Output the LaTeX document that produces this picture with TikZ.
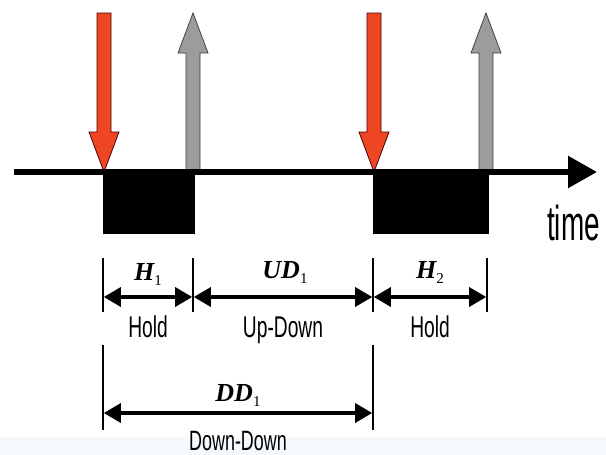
\documentclass[tikz,border=0pt]{standalone}
\usepackage{fontspec}
\setmainfont{Liberation Sans}
\newfontfamily\mathlbl{Liberation Serif}
\usetikzlibrary{arrows.meta}
\definecolor{keyred}{HTML}{EE4622}
\definecolor{keygray}{HTML}{9C9C9C}
\definecolor{bandblue}{HTML}{F3F9FC}
\tikzset{
  pressarrow/.style={fill=keyred, draw=black!70!red, line width=0.8pt, line join=miter},
  releasearrow/.style={fill=keygray, draw=black!75, line width=0.8pt, line join=miter},
  holdbox/.style={fill=black, draw=black},
  tickline/.style={draw=black, line width=1.6pt},
  span/.style={draw=black, line width=3.2pt, {Triangle[length=17pt,width=19pt]}-{Triangle[length=17pt,width=19pt]}, shorten <=0.8pt, shorten >=0.8pt},
  axisline/.style={draw=black, line width=5.5pt, -{Triangle[length=29pt,width=31pt]}},
  sanslbl/.style={inner sep=0pt, anchor=base, font=\fontsize{30}{30}\selectfont},
  mathnode/.style={inner sep=0pt, anchor=base, font=\fontsize{26}{26}\selectfont\mathlbl\bfseries\itshape}
}
\newcommand{\narrowtext}[2]{\scalebox{#1}[1]{#2}}
\newcommand{\sublbl}[2]{#1\raisebox{-5pt}{\fontsize{15}{15}\selectfont\mdseries\upshape #2}}
\begin{document}
\begin{tikzpicture}[x=1pt, y=-1pt]
\useasboundingbox (0,0) rectangle (606,455);
\fill[white] (0,0) rectangle (606,437);
\fill[bandblue] (0,437) rectangle (606,455);

% key press/release arrows (behind axis)
\foreach \cx in {104,374}{
  \draw[pressarrow] (\cx-7,13) -- (\cx+7,13) -- (\cx+7,132) -- (\cx+15,132) -- (\cx,172) -- (\cx-15,132) -- (\cx-7,132) -- cycle;
}
\foreach \cx in {193,486}{
  \draw[releasearrow] (\cx,13) -- (\cx+15,53) -- (\cx+7,53) -- (\cx+7,172) -- (\cx-7,172) -- (\cx-7,53) -- (\cx-15,53) -- cycle;
}

% time axis
\coordinate (axisstart) at (14,172);
\coordinate (axisend) at (597,172);
\draw[axisline] (axisstart) -- (axisend);
\node[sanslbl, font=\fontsize{49}{49}\selectfont] (timelbl) at (573.5,240) {\narrowtext{0.57}{time}};

% hold boxes
\fill[holdbox] (103,170) rectangle (194,233);
\fill[holdbox] (373,170) rectangle (488,233);

% tick marks
\coordinate (a) at (103,297);
\coordinate (b) at (193,297);
\coordinate (c) at (373,297);
\coordinate (d) at (487,297);
\foreach \p in {a,b,c,d}{
  \draw[tickline] ([yshift=39pt]\p) -- ([yshift=-15pt]\p);
}
\coordinate (la) at (103,413);
\coordinate (lc) at (373,413);
\foreach \p in {la,lc}{
  \draw[tickline] ([yshift=68pt]\p) -- ([yshift=-17pt]\p);
}

% spans
\draw[span] (a) -- (b);
\draw[span] (b) -- (c);
\draw[span] (c) -- (d);
\draw[span] (la) -- (lc);

% labels
\node[mathnode] (h1) at (148,280) {\sublbl{H}{1}};
\node[mathnode] (ud1) at (285,278) {\sublbl{UD}{1}};
\node[mathnode] (h2) at (430,278) {\sublbl{H}{2}};
\node[mathnode] (dd1) at (238,401) {\sublbl{DD}{1}};

\node[sanslbl] (hold1) at (148,337) {\narrowtext{0.64}{Hold}};
\node[sanslbl] (updown) at (283,337) {\narrowtext{0.64}{Up-Down}};
\node[sanslbl] (hold2) at (430,337) {\narrowtext{0.64}{Hold}};
\node[sanslbl] (downdown) at (238,450) {\narrowtext{0.64}{\fontsize{28}{28}\selectfont Down-Down}};
\end{tikzpicture}
\end{document}
